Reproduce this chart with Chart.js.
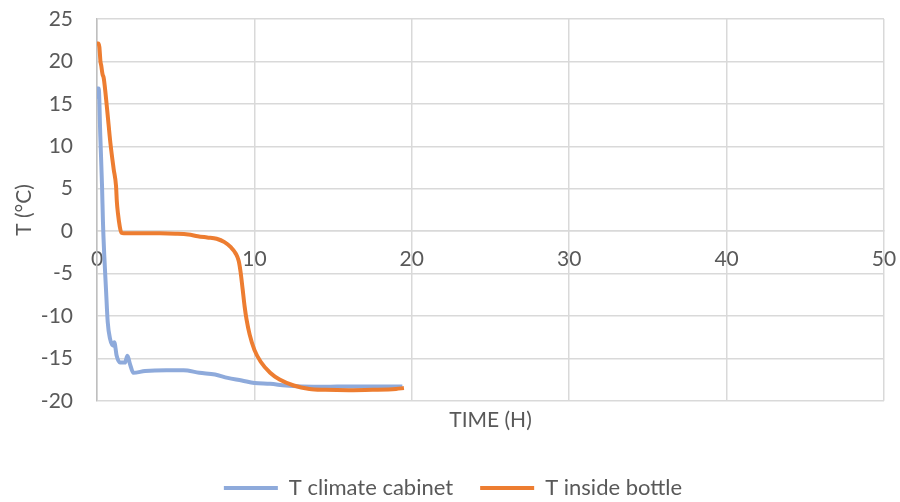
<!DOCTYPE html>
<html>
<head>
<meta charset="utf-8">
<script src="https://cdn.jsdelivr.net/npm/chart.js@4"></script>
<style>
html,body{margin:0;padding:0;background:#fff;}
#wrap{width:900px;height:502px;}
</style>
</head>
<body>
<div id="wrap"><canvas id="chart" width="900" height="502"></canvas></div>
<script>
// values (hours, degrees C)
const cabinetTime = [0, 0.01, 0.11, 0.21, 0.32, 0.38, 0.46, 0.57, 0.68, 0.83, 1.04, 1.1, 1.25, 1.46, 1.78, 1.93, 2.1, 2.31, 3.05, 4.4, 5.5, 6.5, 7.5, 8.3, 9.2, 10, 11, 12, 13, 14.5, 16, 17.5, 19, 19.4];
const cabinetTemp = [15.6, 16.8, 16.8, 11.2, 5.3, 1.0, -2.8, -6.8, -10.7, -12.7, -13.5, -13.1, -14.7, -15.5, -15.5, -14.7, -15.7, -16.7, -16.5, -16.4, -16.4, -16.7, -16.9, -17.3, -17.6, -17.9, -18.0, -18.2, -18.3, -18.35, -18.3, -18.3, -18.3, -18.3];

const bottleTime = [0, 0.08, 0.15, 0.22, 0.27, 0.35, 0.43, 0.64, 0.85, 1.06, 1.21, 1.26, 1.33, 1.45, 1.55, 1.7, 2.5, 4, 5, 5.8, 6.4, 7, 7.6, 8.1, 8.5, 8.8, 9.0, 9.12, 9.25, 9.38, 9.5, 9.7, 10, 10.4, 11, 11.6, 12.5, 13.5, 14.5, 16, 17.5, 19, 19.5];
const bottleTemp = [22.1, 22.1, 21.7, 20, 19.5, 18.5, 18, 14.4, 10.4, 7.3, 5.3, 3.5, 2.1, 0.5, -0.2, -0.25, -0.25, -0.25, -0.3, -0.4, -0.6, -0.75, -0.9, -1.3, -1.9, -2.6, -3.5, -4.8, -6.8, -8.9, -10.4, -12.2, -14, -15.4, -16.7, -17.5, -18.2, -18.6, -18.7, -18.75, -18.7, -18.6, -18.5];

const xTicks = [0, 10, 20, 30, 40, 50];
const yTicks = [-20, -15, -10, -5, 0, 5, 10, 15, 20, 25];

const seriesNames = ['T climate cabinet', 'T inside bottle'];

Chart.defaults.font.family = 'Lato';
Chart.defaults.color = '#595959';

const tickFont = {family: 'Lato', size: 21};
const legendFont = {family: 'Lato', size: 22};
const gridColor = '#d9d9d9';
const noTick = 'rgba(0,0,0,0)';

function toPoints(xs, ys){
    return xs.map((x,i)=>({x:x, y:ys[i]}));
}

// nudge the legend row a bit to the right (chart.js counts trailing padding in the row width)
const legendShift = {
    id: 'legendShift',
    afterLayout(chart){
        chart.legend.left += 11;
        chart.legend.right += 11;
    }
};

new Chart(document.getElementById('chart').getContext('2d'), {
    type: 'line',
    data: {
        datasets: [
            {label: seriesNames[0], data: toPoints(cabinetTime, cabinetTemp), borderColor: '#8eaadb', backgroundColor: '#8eaadb',
             borderWidth: 4, pointRadius: 0, fill: false, cubicInterpolationMode: 'monotone', xAxisID: 'x', yAxisID: 'y', order: 2},
            {label: seriesNames[1], data: toPoints(bottleTime, bottleTemp), borderColor: '#ed7d31', backgroundColor: '#ed7d31',
             borderWidth: 4, pointRadius: 0, fill: false, cubicInterpolationMode: 'monotone', xAxisID: 'x', yAxisID: 'y', order: 1}
        ]
    },
    plugins: [legendShift],
    options: {
        responsive: false,
        animation: false,
        devicePixelRatio: 1,
        layout: {padding: {top: 19, right: 16, left: 0, bottom: -7}},
        plugins: {
            tooltip: {enabled: false},
            legend: {
                position: 'bottom',
                labels: {
                    usePointStyle: true, pointStyle: 'line', pointStyleWidth: 54,
                    font: legendFont, color: '#595959', padding: 27,
                    sort: (a,b)=>a.datasetIndex-b.datasetIndex
                }
            }
        },
        scales: {
            x: {
                type: 'linear', min: 0, max: 50,
                position: {y: 0},
                afterBuildTicks: s => { s.ticks = xTicks.map(v=>({value:v})); },
                // invisible tick marks push labels down without adding side padding
                grid: {color: gridColor, lineWidth: 1.5, drawTicks: true, tickLength: 16, tickColor: noTick},
                border: {color: gridColor, width: 1.5},
                ticks: {font: tickFont, color: '#595959', padding: 0, maxRotation: 0}
            },
            x2: {
                type: 'linear', min: 0, max: 50, position: 'bottom',
                grid: {display: false, drawTicks: false},
                border: {display: false},
                ticks: {display: false},
                title: {display: true, text: 'TIME (H)', font: tickFont, color: '#595959', padding: {top: 7, bottom: 17}}
            },
            y: {
                type: 'linear', min: -20, max: 25, position: 'left',
                afterBuildTicks: s => { s.ticks = yTicks.map(v=>({value:v})); },
                afterFit: s => { s.width = 97; },
                grid: {color: gridColor, lineWidth: 1.5, drawTicks: true, tickLength: 24, tickColor: noTick},
                border: {color: '#bfbfbf', width: 1.5},
                ticks: {font: tickFont, color: '#595959', padding: 0},
                title: {display: true, text: 'T (°C)', font: tickFont, color: '#595959', padding: {top: 12, bottom: 0}}
            }
        }
    }
});
</script>
</body>
</html>
